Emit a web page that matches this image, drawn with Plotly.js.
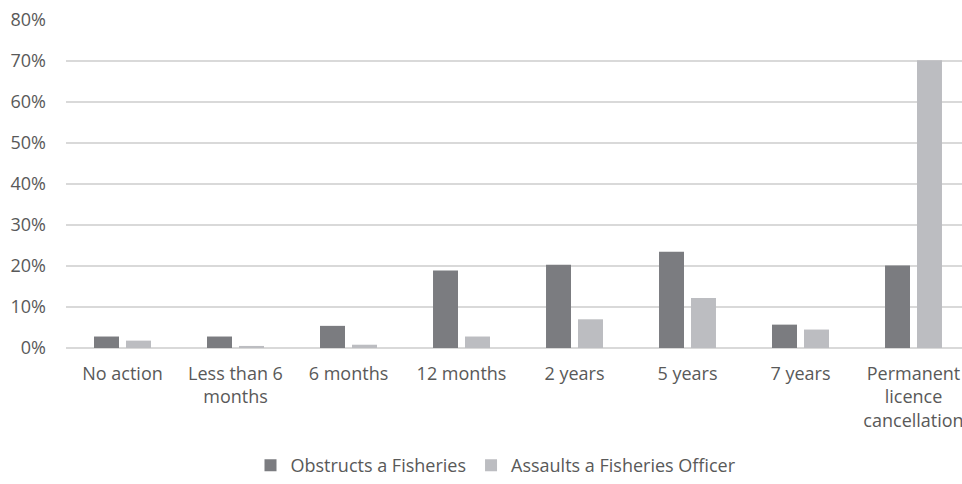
<!DOCTYPE html>
<html>
<head>
<meta charset="utf-8">
<script src="https://cdn.plot.ly/plotly-3.0.1.min.js"></script>
<style>html,body{margin:0;padding:0;overflow:hidden;background:#fff;}#chart{width:970px;height:484px;}</style>
</head>
<body>
<div id="chart"></div>
<script>
const categories = ["No action", "Less than 6<br>months", "6 months", "12 months", "2 years", "5 years", "7 years", "Permanent<br>licence<br>cancellation"];
const seriesNames = ["Obstructs a Fisheries", "Assaults a Fisheries Officer"];
const obstructs = [2.8, 2.8, 5.4, 18.9, 20.3, 23.5, 5.7, 20.1];
const assaults = [1.8, 0.5, 0.8, 2.8, 7.0, 12.2, 4.5, 70.2];
const yTicks = [0, 10, 20, 30, 40, 50, 60, 70, 80];

const textColor = "#595959";
const font = {family: "'Open Sans', sans-serif", size: 18, color: textColor};

const data = [
  {type: "bar", name: seriesNames[0], x: categories, y: obstructs, marker: {color: "#7b7c80"}, hoverinfo: "skip"},
  {type: "bar", name: seriesNames[1], x: categories, y: assaults, marker: {color: "#bcbdc1"}, hoverinfo: "skip"}
];

const layout = {
  width: 970, height: 484,
  margin: {l: 66, r: 0, t: 20, b: 136, autoexpand: false},
  paper_bgcolor: "#fff", plot_bgcolor: "#fff",
  font: font,
  barmode: "group",
  bargap: 0.434,
  bargroupgap: 0.219,
  showlegend: true,
  legend: {orientation: "h", xref: "container", x: 496/970, xanchor: "center", yref: "container", y: 0, yanchor: "bottom", font: font, itemclick: false},
  xaxis: {type: "category", showgrid: false, zeroline: false, showline: false, ticks: "", tickfont: font, tickangle: 0, ticklabelstandoff: 13},
  yaxis: {range: [0, 80], tickvals: yTicks, ticktext: yTicks.map(v => v + "%"), showgrid: true, gridcolor: "#d9d9d9", gridwidth: 1.3,
          zeroline: true, zerolinecolor: "#d9d9d9", zerolinewidth: 1.5, showline: false, ticks: "", tickfont: font, ticklabelstandoff: 19}
};

Plotly.newPlot("chart", data, layout, {displayModeBar: false, staticPlot: true});
</script>
</body>
</html>
